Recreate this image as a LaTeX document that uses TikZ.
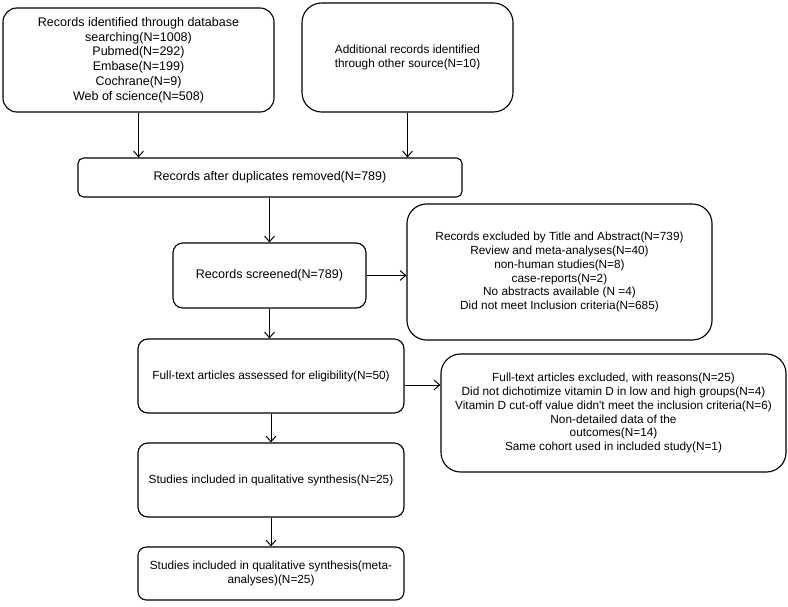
\documentclass[tikz,border=0pt]{standalone}
\usepackage{fontspec}
\setmainfont{Liberation Sans}
\usepackage{xcolor}
\usepackage{tikz}
\usetikzlibrary {arrows.meta}

\tikzset{
  box/.style={draw, line width=0.8pt, align=center, inner sep=2pt},
  bigtext/.style={font=\fontsize{8.9}{10.5}\selectfont},
  smalltext/.style={font=\fontsize{8.4}{9.9}\selectfont},
  link/.style={line width=0.7pt, -{Straight Barb[length=4pt,width=7pt]}}
}

\begin{document}
\begin{tikzpicture}[x=0.025cm, y=-0.025cm]
\useasboundingbox (0,0) rectangle (788,606);

\node (db) at (138.5,60) [box, bigtext, rounded corners=10pt, minimum width=6.775cm, minimum height=2.6cm] {Records identified through database\\searching(N=1008)\\Pubmed(N=292)\\Embase(N=199)\\Cochrane(N=9)\\Web of science(N=508)};
\node (add) at (407.5,57.5) [box, smalltext, rounded corners=14pt, minimum width=5.275cm, minimum height=2.725cm] {Additional records identified\\through other source(N=10)};

\node (dup) at (270,177.5) [box, bigtext, rounded corners=4pt, minimum width=9.6cm, minimum height=0.975cm] {Records after duplicates removed(N=789)};

\node (scr) at (269.5,275.5) [box, bigtext, rounded corners=7pt, minimum width=4.825cm, minimum height=1.625cm] {Records screened(N=789)};
\node (exc1) at (559.5,272) [box, smalltext, rounded corners=14pt, minimum width=7.625cm, minimum height=3.4cm] {Records excluded by Title and Abstract(N=739)\\Review and meta-analyses(N=40)\\non-human studies(N=8)\\case-reports(N=2)\\No abstracts available (N =4)\\Did not meet Inclusion criteria(N=685)};

\node (full) at (271,376) [box, smalltext, rounded corners=7pt, minimum width=6.65cm, minimum height=1.85cm] {Full-text articles assessed for eligibility(N=50)};
\node (exc2) at (613.5,413) [box, smalltext, rounded corners=14pt, minimum width=8.625cm, minimum height=2.95cm] {Full-text articles excluded, with reasons(N=25)\\Did not dichotimize vitamin D in low and high groups(N=4)\\Vitamin D cut-off value didn\textquotesingle t meet the inclusion criteria(N=6)\\Non-detailed data of the\\outcomes(N=14)\\Same cohort used in included study(N=1)};

\node (qual) at (271,480) [box, smalltext, rounded corners=7pt, minimum width=6.65cm, minimum height=1.85cm] {Studies included in qualitative synthesis(N=25)};
\node (meta) at (271,573.5) [box, smalltext, rounded corners=6pt, minimum width=6.65cm, minimum height=1.325cm] {Studies included in qualitative synthesis(meta-\\analyses)(N=25)};

\draw [link] (db) -- (db |- dup.north);
\draw [link] (add) -- (add |- dup.north);
\draw [link] (scr |- dup.south) -- (scr.north);
\draw [link] (scr) -- (scr -| exc1.west);
\draw [link] (scr) -- (scr |- full.north);
\coordinate (fe) at ([yshift=-6.4pt]full.east);
\draw [link] (fe) -- (fe -| exc2.west);
\draw [link] (full) -- (full |- qual.north);
\draw [link] (qual) -- (qual |- meta.north);

\end{tikzpicture}
\end{document}
